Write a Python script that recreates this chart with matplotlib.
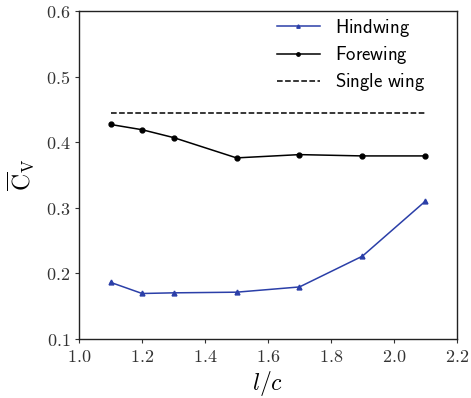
import matplotlib
matplotlib.use('Agg')
import matplotlib.pyplot as plt
import numpy as np

plt.rcParams['mathtext.fontset'] = 'cm'
plt.rcParams['font.family'] = 'serif'
plt.rcParams['font.serif'] = ['DejaVu Serif']

# data
lc = [1.1, 1.2, 1.3, 1.5, 1.7, 1.9, 2.1]
hindwing = [0.186, 0.169, 0.170, 0.171, 0.179, 0.226, 0.310]
forewing = [0.427, 0.419, 0.407, 0.376, 0.381, 0.379, 0.379]
single_wing = 0.445

fig = plt.figure(figsize=(4.71, 3.98), dpi=100)
ax = fig.add_axes([0.168, 0.149, 0.802, 0.823])

ax.plot(lc, hindwing, color='#2b3fa8', marker='^', markersize=3.5, lw=1.1,
        label=r'$\mathsf{Hindwing}$')
ax.plot(lc, forewing, color='black', marker='o', markersize=3.5, lw=1.1,
        label=r'$\mathsf{Forewing}$')
ax.plot([lc[0], lc[-1]], [single_wing, single_wing], 'k--', lw=1.1,
        label=r'$\mathsf{Single\ wing}$')

ax.set_xlim(1.0, 2.2)
ax.set_ylim(0.1, 0.6)
ax.set_xticks(np.arange(1.0, 2.21, 0.2))
ax.set_yticks(np.arange(0.1, 0.61, 0.1))
ax.set_xticklabels(['$%.1f$' % v for v in np.arange(1.0, 2.21, 0.2)])
ax.set_yticklabels(['$%.1f$' % v for v in np.arange(0.1, 0.61, 0.1)])
ax.tick_params(labelsize=13, length=3, width=0.8, colors='#333333')
for s in ax.spines.values():
    s.set_linewidth(1.0)
    s.set_color('#222222')

ax.set_xlabel('$l/c$', fontsize=17, labelpad=2)
ax.set_ylabel(r'$\overline{\mathrm{C}}_{\mathrm{V}}$', fontsize=17, labelpad=6)

ax.legend(frameon=False, fontsize=13.5, handlelength=2.3, loc='upper right',
          bbox_to_anchor=(0.935, 1.005), borderaxespad=0.0, labelspacing=0.27,
          markerscale=0.7, handletextpad=0.8)

fig.savefig('out.png', dpi=100)
